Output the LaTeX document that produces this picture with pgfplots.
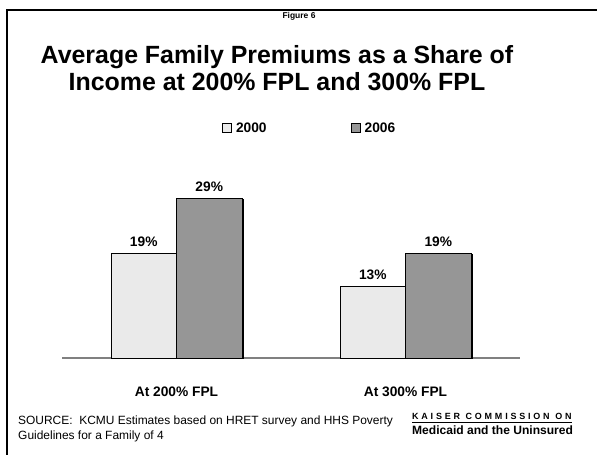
\documentclass[border=0pt]{standalone}
\usepackage{pgfplots}
\pgfplotsset{compat=1.18}
\usetikzlibrary{shadows}
\usepackage{fontspec}
\setmainfont{Liberation Sans}
\definecolor{lightbar}{RGB}{234,234,234}
\definecolor{darkbar}{RGB}{150,150,150}
\definecolor{axisgray}{RGB}{128,128,128}
\newcommand{\ls}{\hspace{2.8bp}}
\begin{document}
\begin{tikzpicture}[x=1bp,y=1bp]
\useasboundingbox (0,0) rectangle (597,455);
\draw[line width=2bp] (6.5,0) -- (6.5,445) -- (597,445);
\node[font=\fontsize{8.5}{10}\selectfont\bfseries] at (299,439) {Figure 6};
\node[align=center, font=\fontsize{25}{27}\selectfont\bfseries] at (277,386.5)
  {Average Family Premiums as a Share of\\Income at 200\% FPL and 300\% FPL};
\node[anchor=base west, inner sep=0pt, font=\fontsize{12}{15}\selectfont] at (18,30)
  {SOURCE:\ \ KCMU Estimates based on HRET survey and HHS Poverty};
\node[anchor=base west, inner sep=0pt, font=\fontsize{12}{15}\selectfont] at (18,15)
  {Guidelines for a Family of 4};
\node[anchor=base west, inner sep=0pt, font=\fontsize{9}{10}\selectfont\bfseries] at (412,35)
  {K\ls A\ls I\ls S\ls E\ls R\ls\ls C\ls O\ls M\ls M\ls I\ls S\ls S\ls I\ls O\ls N\ls\ls O\ls N};
\draw[line width=1bp] (412,32) -- (572,32);
\node[anchor=base west, inner sep=0pt, font=\fontsize{12.1}{13}\selectfont\bfseries] at (412,20.5)
  {Medicaid and the Uninsured};
\begin{axis}[
  at={(62bp,97bp)}, anchor=south west,
  scale only axis, width=458bp, height=192.5bp,
  xmin=-0.5, xmax=1.5, ymin=0, ymax=35,
  axis x line*=bottom, axis y line=none,
  x axis line style={draw=axisgray, line width=1.5bp, -},
  xtick={0,1}, xticklabels={At 200\% FPL, At 300\% FPL},
  major tick length=0pt,
  xticklabel style={font=\fontsize{13.8}{14}\selectfont\bfseries, anchor=center, yshift=-34bp},
  ybar, bar width=65.5bp,
  clip=false,
  /pgf/number format/assume math mode=true,
  nodes near coords={\pgfmathprintnumber{\pgfplotspointmeta}\%},
  every node near coord/.append style={font=\fontsize{13.8}{14}\selectfont\bfseries, anchor=center, yshift=12bp, text=black},
  legend columns=2,
  legend style={at={(axis description cs:0.349,1.195)}, anchor=west, draw=none, fill=none,
    inner sep=0pt, font=\fontsize{13.8}{14}\selectfont\bfseries,
    /tikz/every even column/.append style={column sep=82bp}},
  legend image code/.code={\draw[#1, line width=0.5bp] (0bp,-4.5bp) rectangle (9bp,4.5bp);},
]
\addplot[fill=lightbar, draw=black, line width=0.8bp, forget plot, bar shift=-32.75bp,
  drop shadow={shadow xshift=1.6bp, shadow yshift=-0.8bp, opacity=1, fill=black}] coordinates {(0,19) (1,13)};
\addplot[fill=darkbar, draw=black, line width=0.8bp, forget plot, bar shift=32.75bp,
  drop shadow={shadow xshift=1.6bp, shadow yshift=-0.8bp, opacity=1, fill=black}] coordinates {(0,29) (1,19)};
\addlegendimage{fill=lightbar, draw=black}
\addlegendentry{\hspace{2.5bp}2000}
\addlegendimage{fill=darkbar, draw=black}
\addlegendentry{\hspace{2.5bp}2006}
\end{axis}
\end{tikzpicture}
\end{document}
